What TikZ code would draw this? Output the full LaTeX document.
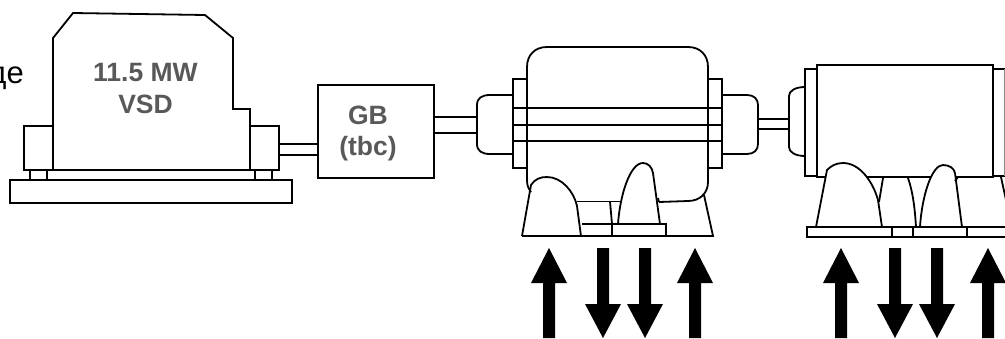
\documentclass[tikz,border=0pt]{standalone}
\usepackage{fontspec}
\setmainfont{Liberation Sans}
\newcommand{\uparr}[1]{\fill[black] (#1-6,338) -- (#1-6,283) -- (#1-18,283) -- (#1,248) -- (#1+18,283) -- (#1+6,283) -- (#1+6,338) -- cycle;}
\newcommand{\dnarr}[1]{\fill[black] (#1-6,248) -- (#1-6,304) -- (#1-18,304) -- (#1,338) -- (#1+18,304) -- (#1+6,304) -- (#1+6,248) -- cycle;}
\tikzset{
  part/.style={draw=black,line width=1.8pt,line join=miter},
  lbl/.style={font=\fontsize{26.5}{30}\selectfont\bfseries,text=lblgray,align=center,inner sep=0pt}
}
\definecolor{lblgray}{HTML}{595959}
\begin{document}
\begin{tikzpicture}[x=1pt,y=-1pt]
\useasboundingbox (0,0) rectangle (1005,338);
\fill[white] (0,0) rectangle (1005,338);
% clipped text at the left
\begin{scope}
\clip (0,0) rectangle (1005,338);
\node[anchor=base east,inner sep=0pt,font=\fontsize{31}{33}\selectfont] (cut) at (24,83) {де};
\end{scope}
% VSD
\draw[part] (53,170) -- (53,38) -- (73,13) -- (205,15) -- (233,38) -- (233,109) -- (250,109) -- (250,170) -- cycle;
\draw[part] (24,126) rectangle (53,170);
\draw[part] (250,126) rectangle (279,170);
\draw[part] (30,170) rectangle (47,180);
\draw[part] (255,170) rectangle (272,180);
\draw[part] (10,180) rectangle (292,203);
\draw[part] (279,144) -- (318,144) (279,155) -- (318,155);
\node[lbl,anchor=base] (vsd) at (145.5,81) {11.5 MW};
\node[lbl,anchor=base] (vsdb) at (145.5,113) {VSD};
% Gearbox
\draw[part] (318,85) rectangle (434,178);
\node[lbl,anchor=base] (gb) at (368,124) {GB};
\node[lbl,anchor=base] (tbc) at (368,155) {(tbc)};
\draw[part] (434,117) -- (478,117) (434,133) -- (478,133);
% Motor 1 couplings and flanges
\draw[part] (513,95) -- (490,95) .. controls (482,95) and (477,98) .. (477,105) -- (477,144) .. controls (477,151) and (482,154) .. (490,154) -- (513,154);
\draw[part] (513,79) rectangle (527,168);
\draw[part] (708,79) rectangle (722,168);
\draw[part] (722,95) -- (747,95) .. controls (754,95) and (758,99) .. (758,105) -- (758,144) .. controls (758,150) and (754,154) .. (747,154) -- (722,154);
% Motor 1 body
\draw[part] (527,108) -- (527,67) .. controls (527,55) and (535,47) .. (547,47) -- (688,47) .. controls (700,47) and (708,55) .. (708,67) -- (708,108);
\draw[part] (531,192) .. controls (528,188) and (527,185) .. (527,180) -- (527,141);
\draw[part] (708,141) -- (708,182) .. controls (708,193) and (700,201) .. (688,201) -- (659,202);
\draw[part] (513,108) rectangle (722,141);
\draw[part] (513,125) -- (722,125);
\draw[part] (527,108) -- (708,108);
% Motor 1 feet
\draw[part] (577,201.5) -- (620,201.5);
\draw[part] (610,201.5) -- (612,224);
\draw[part] (582,224) -- (612,224);
\draw[part] (612,224) rectangle (666,236);
\draw[part] (522,236) -- (531,185) .. controls (535,179) and (540,177) .. (547,177) .. controls (562,177) and (574,192) .. (577,206) -- (581,236);
\draw[part] (522,236) -- (713,236) -- (704,195);
\draw[part] (618,224) .. controls (620,195) and (630,163) .. (643,163) .. controls (648,163) and (652,167) .. (653,173) -- (660,224);
\draw[part] (659,202) -- (658,198);
% Shaft between motors
\draw[part] (758,119) -- (789,119) (758,129) -- (789,129);
% Motor 2
\draw[part] (805,87) .. controls (795,87) and (789,91) .. (789,96) -- (789,147) .. controls (789,152) and (795,156) .. (805,156);
\draw[part] (805,69) rectangle (817,176);
\draw[part] (817,65) rectangle (993,177);
\draw[part] (1006,69) -- (993,69) (993,176) -- (1006,176);
\draw[draw=black!45,line width=1.5pt] (1005,69) -- (1005,176);
% Motor 2 feet (white patches hide the body edge under them)
\fill[white] (816,227) -- (827,170) .. controls (831,166) and (836,163) .. (843,163) .. controls (860,163) and (873,182) .. (878,200) -- (882,227) -- cycle;
\fill[white] (920,227) .. controls (922,195) and (932,165) .. (943,165) .. controls (949,165) and (954,168) .. (955,173) -- (962,227) -- cycle;
\draw[part] (816,227) -- (827,170) .. controls (831,166) and (836,163) .. (843,163) .. controls (860,163) and (873,182) .. (878,200) -- (882,227);
\draw[part] (883,178) -- (879,202);
\draw[part] (908,178) .. controls (913,192) and (915,210) .. (916,227);
\draw[part] (920,227) .. controls (922,195) and (932,165) .. (943,165) .. controls (949,165) and (954,168) .. (955,173) -- (962,227);
\draw[part] (955,181) -- (958,177);
\draw[part] (1001,177) -- (1006,200);
\draw[part] (807,227) rectangle (1007,237);
\draw[part] (892,227) -- (892,237) (913,227) -- (913,237) (967,227) -- (967,237);
% Arrows
\uparr{549} \dnarr{603} \dnarr{645} \uparr{695}
\uparr{841} \dnarr{895} \dnarr{937} \uparr{988}
\end{tikzpicture}
\end{document}
